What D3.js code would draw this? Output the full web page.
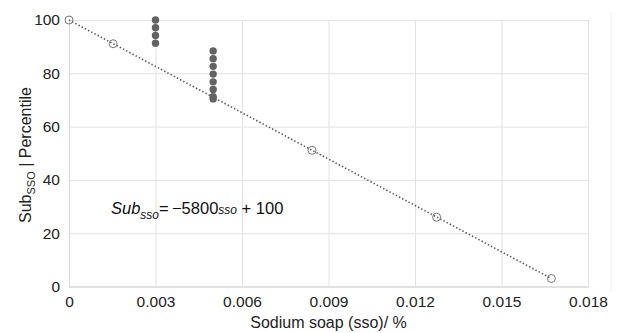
<!DOCTYPE html>
<html>
<head>
<meta charset="utf-8">
<script src="https://cdn.jsdelivr.net/npm/d3@7"></script>
<style>
  body { margin: 0; background: #fff; }
  svg { display: block; font-family: "Liberation Sans", Arial, sans-serif; }
</style>
</head>
<body>
<div id="chart"></div>
<script>
// fitted points on the line Sub = -5800 sso + 100
var fitX = [0, 0.00153, 0.00843, 0.01275, 0.01673];
var fitY = [100, 91.1, 51.1, 26.0, 3.0];

// measured percentiles
var dotX = [0.003, 0.003, 0.003, 0.003,
            0.005, 0.005, 0.005, 0.005, 0.005, 0.005, 0.005, 0.005];
var dotY = [100, 97.1, 94.2, 91.3,
            88.4, 85.5, 82.6, 79.7, 76.8, 73.9, 71.2, 70.4];

var xTicks = [0, 0.003, 0.006, 0.009, 0.012, 0.015, 0.018];
var xTickLabels = ["0", "0.003", "0.006", "0.009", "0.012", "0.015", "0.018"];
var yTicks = [0, 20, 40, 60, 80, 100];

// set the dimensions and margins of the graph
var W = 622, H = 333;
var margin = {top: 20, right: 34, bottom: 46.5, left: 69},
    width = W - margin.left - margin.right,
    height = H - margin.top - margin.bottom;

var root = d3.select("#chart")
  .append("svg")
    .attr("width", W)
    .attr("height", H);

// faint separator on the far right
root.append("line")
  .attr("x1", 611).attr("x2", 611)
  .attr("y1", 12).attr("y2", 292)
  .attr("stroke", "#f0f0f0").attr("stroke-width", 1);

var svg = root.append("g")
  .attr("transform", "translate(" + margin.left + "," + margin.top + ")");

var x = d3.scaleLinear().domain([0, 0.018]).range([0, width]);
var y = d3.scaleLinear().domain([0, 100]).range([height, 0]);

// grid
var xAxis = d3.axisBottom(x)
  .tickValues(xTicks)
  .tickFormat(function(d, i) { return xTickLabels[i]; })
  .tickSize(-height)
  .tickPadding(9);
var gx = svg.append("g")
  .attr("transform", "translate(0," + height + ")")
  .call(xAxis);
gx.select(".domain").attr("stroke", "#d8d8d8");
gx.selectAll(".tick line").attr("stroke", "#e2e2e2");
gx.selectAll("text").attr("font-size", 15.5).attr("fill", "#222")
  .attr("font-family", "Liberation Sans, Arial, sans-serif");

var yAxis = d3.axisLeft(y)
  .tickValues(yTicks)
  .tickSize(-width)
  .tickPadding(9);
var gy = svg.append("g").call(yAxis);
gy.select(".domain").attr("stroke", "#d8d8d8");
gy.selectAll(".tick line").attr("stroke", "#e2e2e2");
gy.selectAll("text").attr("font-size", 15.5).attr("fill", "#222")
  .attr("font-family", "Liberation Sans, Arial, sans-serif");

// dotted fit line
var fitData = fitX.map(function(d, i) { return [d, fitY[i]]; });
svg.append("path")
  .datum([fitData[0], fitData[fitData.length - 1]])
  .attr("fill", "none")
  .attr("stroke", "#555")
  .attr("stroke-width", 1.6)
  .attr("stroke-dasharray", "1.4,2.2")
  .attr("d", d3.line()
    .x(function(d) { return x(d[0]); })
    .y(function(d) { return y(d[1]); }));

// open circle markers
svg.selectAll(".fit")
  .data(fitData)
  .enter()
  .append("circle")
    .attr("cx", function(d) { return x(d[0]); })
    .attr("cy", function(d) { return y(d[1]); })
    .attr("r", 4)
    .attr("fill", "none")
    .attr("stroke", "#777")
    .attr("stroke-width", 1);

// filled measured dots
var dotData = dotX.map(function(d, i) { return [d, dotY[i]]; });
svg.selectAll(".dot")
  .data(dotData)
  .enter()
  .append("circle")
    .attr("cx", function(d) { return x(d[0]); })
    .attr("cy", function(d) { return y(d[1]); })
    .attr("r", 3.7)
    .attr("fill", "#636363");

// equation
var eq = root.append("text")
  .attr("x", 111).attr("y", 214)
  .attr("font-size", 16.5).attr("fill", "#111");
eq.append("tspan").attr("font-style", "italic").text("Sub");
eq.append("tspan").attr("font-style", "italic").attr("font-size", 12).attr("dy", 5).text("sso");
eq.append("tspan").attr("dy", -5).text("=\u2009\u22125800");
eq.append("tspan").attr("font-style", "italic").attr("font-size", 12).text("sso");
eq.append("tspan").text(" + 100");

// axis titles
root.append("text")
  .attr("x", margin.left + width / 2)
  .attr("y", 328)
  .attr("text-anchor", "middle")
  .attr("font-size", 16).attr("fill", "#222")
  .text("Sodium soap (sso)/ %");

var yt = root.append("text")
  .attr("transform", "translate(31,155) rotate(-90)")
  .attr("text-anchor", "middle")
  .attr("font-size", 16).attr("fill", "#222");
yt.append("tspan").text("Sub");
yt.append("tspan").attr("font-size", 11).attr("dy", 4).text("SSO");
yt.append("tspan").attr("dy", -4).text(" | Percentile");
</script>
</body>
</html>
